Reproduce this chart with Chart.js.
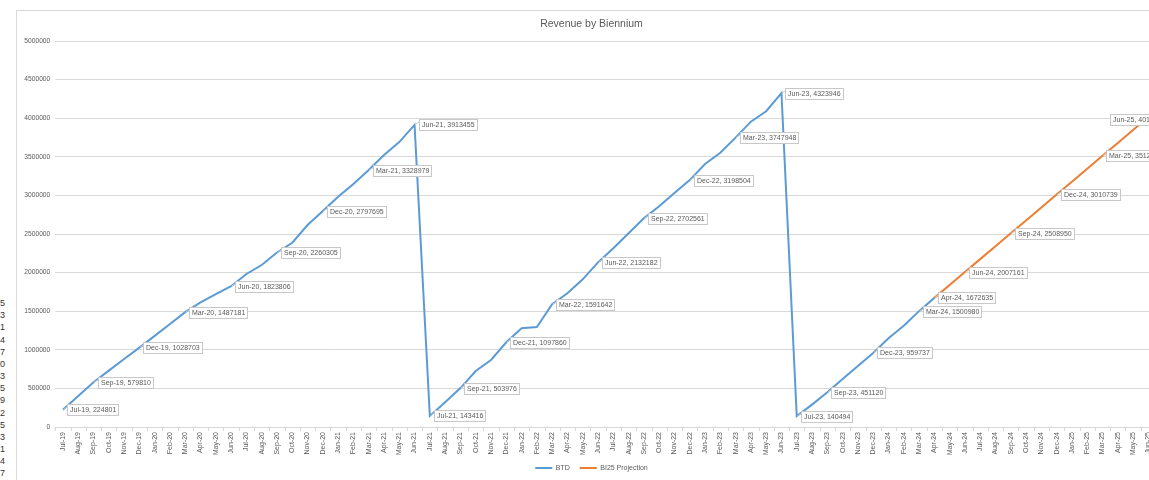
<!DOCTYPE html>
<html>
<head>
<meta charset="utf-8">
<script src="https://cdn.jsdelivr.net/npm/chart.js@4/dist/chart.umd.min.js"></script>
<style>
  html, body { margin:0; padding:0; background:#fff; width:1149px; height:480px; overflow:hidden; }
  #frame { position:absolute; left:16px; top:10px; width:1149px; height:476px; border:1px solid #d9d9d9; background:#fff; }
  #c { display:block; }
  #cells { position:absolute; left:-34px; top:297px; width:39px; text-align:right; font:9px "Liberation Sans", Arial, sans-serif; line-height:12.17px; color:#333; }
</style>
</head>
<body>
<div id="cells"></div>
<div id="frame"><canvas id="c" width="1149" height="476"></canvas></div>
<script>
// ---- data ----
const months = [
  'Jul-19','Aug-19','Sep-19','Oct-19','Nov-19','Dec-19','Jan-20','Feb-20','Mar-20','Apr-20','May-20','Jun-20',
  'Jul-20','Aug-20','Sep-20','Oct-20','Nov-20','Dec-20','Jan-21','Feb-21','Mar-21','Apr-21','May-21','Jun-21',
  'Jul-21','Aug-21','Sep-21','Oct-21','Nov-21','Dec-21','Jan-22','Feb-22','Mar-22','Apr-22','May-22','Jun-22',
  'Jul-22','Aug-22','Sep-22','Oct-22','Nov-22','Dec-22','Jan-23','Feb-23','Mar-23','Apr-23','May-23','Jun-23',
  'Jul-23','Aug-23','Sep-23','Oct-23','Nov-23','Dec-23','Jan-24','Feb-24','Mar-24','Apr-24','May-24','Jun-24',
  'Jul-24','Aug-24','Sep-24','Oct-24','Nov-24','Dec-24','Jan-25','Feb-25','Mar-25','Apr-25','May-25','Jun-25'
];

const btd = [
  224801, 400000, 579810, 730000, 880000, 1028703, 1180000, 1335000, 1487181, 1615000, 1720000, 1823806,
  1982000, 2098000, 2260305, 2387000, 2616000, 2797695, 2983000, 3148000, 3328979, 3523000, 3690000, 3913455,
  143416, 320000, 503976, 725000, 868000, 1097860, 1278000, 1295000, 1591642, 1732000, 1913000, 2132182,
  2315000, 2509000, 2702561, 2860000, 3030000, 3198504, 3407000, 3553000, 3747948, 3955000, 4090000, 4323946,
  140494, 290000, 451120, 622000, 790000, 959737, 1149000, 1312000, 1500980, 1672635, null, null,
  null, null, null, null, null, null, null, null, null, null, null, null
];

const projection = [
  null, null, null, null, null, null, null, null, null, null, null, null,
  null, null, null, null, null, null, null, null, null, null, null, null,
  null, null, null, null, null, null, null, null, null, null, null, null,
  null, null, null, null, null, null, null, null, null, null, null, null,
  null, null, null, null, null, null, null, null, null, 1672635, 1839898, 2007161,
  2174424, 2341687, 2508950, 2676213, 2843476, 3010739, 3178002, 3345265, 3512528, 3679791, 3847054, 4014317
];

const btdLabelled = ['Jul-19','Sep-19','Dec-19','Mar-20','Jun-20','Sep-20','Dec-20','Mar-21','Jun-21',
  'Jul-21','Sep-21','Dec-21','Mar-22','Jun-22','Sep-22','Dec-22','Mar-23','Jun-23',
  'Jul-23','Sep-23','Dec-23','Mar-24'];
const projLabelled = ['Apr-24','Jun-24','Sep-24','Dec-24','Mar-25','Jun-25'];

const yTicks = [0, 500000, 1000000, 1500000, 2000000, 2500000, 3000000, 3500000, 4000000, 4500000, 5000000];

const seriesNames = ['BTD', 'BI25 Projection'];
const chartTitle = 'Revenue by Biennium';

// cut-off spreadsheet cells at the far left edge
const cellDigits = ['5','3','1','4','7','0','3','5','9','2','5','3','1','4','7'];
document.getElementById('cells').innerHTML = cellDigits.map(d => '<div>' + d + '</div>').join('');

// ---- chart ----
const FONT = '"Liberation Sans", Arial, sans-serif';
const TXT = '#595959';
const GRID = '#d9d9d9';

// centre title and legend on the whole chart object (not the padded box)
const centrePlugin = {
  id: 'centreBoxes',
  afterLayout(chart) {
    if (chart.titleBlock) chart.titleBlock.left = 10;
    if (chart.legend) chart.legend.left = 10;
  }
};

// short tick marks between categories on the x axis
const tickMarkPlugin = {
  id: 'tickMarks',
  beforeDatasetsDraw(chart) {
    const sx = chart.scales.x;
    const n = chart.data.labels.length;
    const step = sx.getPixelForValue(1) - sx.getPixelForValue(0);
    const start = sx.getPixelForValue(0) - step / 2;
    const y0 = chart.chartArea.bottom;
    const ctx = chart.ctx;
    ctx.save();
    ctx.strokeStyle = GRID;
    ctx.lineWidth = 1;
    ctx.beginPath();
    for (let k = 0; k <= n; k++) {
      const x = Math.round(start + k * step) + 0.5;
      ctx.moveTo(x, y0);
      ctx.lineTo(x, y0 + 4);
    }
    ctx.stroke();
    ctx.restore();
  }
};

const calloutPlugin = {
  id: 'callouts',
  afterDatasetsDraw(chart) {
    const ctx = chart.ctx;
    const lists = [btdLabelled, projLabelled];
    ctx.save();
    ctx.font = '7px ' + FONT;
    ctx.textBaseline = 'middle';
    ctx.textAlign = 'left';
    chart.data.datasets.forEach((ds, di) => {
      const meta = chart.getDatasetMeta(di);
      lists[di].forEach(m => {
        const i = months.indexOf(m);
        const pt = meta.data[i];
        if (!pt || ds.data[i] == null) return;
        const x = pt.x, y = pt.y;
        const text = m + ', ' + ds.data[i];
        const w = Math.round(ctx.measureText(text).width + 5);
        let bx = Math.round(x + 4) + 0.5;
        let by = Math.round(y - 5.5) + 0.5;
        const h = 11;
        const maxX = chart.width + 2 - w;
        let shifted = false;
        if (bx > maxX) { bx = Math.round(maxX) + 0.5; by = Math.round(y - 3.5) + 0.5; shifted = true; }
        ctx.strokeStyle = '#c8c8c8';
        ctx.lineWidth = 1;
        if (!shifted) {
          ctx.beginPath();
          ctx.moveTo(x + 0.5, y);
          ctx.lineTo(bx, by + 2);
          ctx.stroke();
        }
        ctx.fillStyle = '#ffffff';
        ctx.fillRect(bx, by, w, h);
        ctx.strokeRect(bx, by, w, h);
        ctx.fillStyle = TXT;
        ctx.fillText(text, bx + 2.5, by + h / 2 + 0.5);
      });
    });
    ctx.restore();
  }
};

new Chart(document.getElementById('c'), {
  type: 'line',
  data: {
    labels: months,
    datasets: [
      { label: seriesNames[0], data: btd, borderColor: '#5B9BD5', backgroundColor: '#5B9BD5',
        borderWidth: 2, pointRadius: 0, pointHoverRadius: 0, tension: 0, spanGaps: false,
        pointStyle: 'line' },
      { label: seriesNames[1], data: projection, borderColor: '#ED7D31', backgroundColor: '#ED7D31',
        borderWidth: 2, pointRadius: 0, pointHoverRadius: 0, tension: 0, spanGaps: false,
        pointStyle: 'line' }
    ]
  },
  options: {
    responsive: false,
    animation: false,
    devicePixelRatio: 1,
    layout: { padding: { left: 0, right: 10, top: 0, bottom: 5.5 } },
    plugins: {
      title: {
        display: true, text: chartTitle, color: TXT,
        font: { family: FONT, size: 10.5, weight: 'normal', lineHeight: 1.2 },
        padding: { top: 7, bottom: 10.4 }
      },
      legend: {
        display: true, position: 'bottom',
        labels: {
          color: TXT, font: { family: FONT, size: 7 },
          usePointStyle: true, pointStyle: 'line', pointStyleWidth: 17, padding: 10
        }
      },
      tooltip: { enabled: false }
    },
    scales: {
      x: {
        type: 'category', offset: true,
        grid: { display: false, drawTicks: false },
        border: { display: true, color: GRID },
        ticks: { autoSkip: false, minRotation: 90, maxRotation: 90, padding: 5, color: TXT, font: { family: FONT, size: 7 } },
        afterFit(s) { s.height = 27.5; }
      },
      y: {
        min: 0, max: 5000000,
        afterBuildTicks(s) { s.ticks = yTicks.map(v => ({ value: v })); },
        grid: { color: GRID, drawTicks: false },
        border: { display: false },
        ticks: { padding: 5, color: TXT, font: { family: FONT, size: 6.7 }, callback: v => String(v) },
        afterFit(s) { s.width = 38.3; }
      }
    }
  },
  plugins: [centrePlugin, tickMarkPlugin, calloutPlugin]
});
</script>
</body>
</html>
